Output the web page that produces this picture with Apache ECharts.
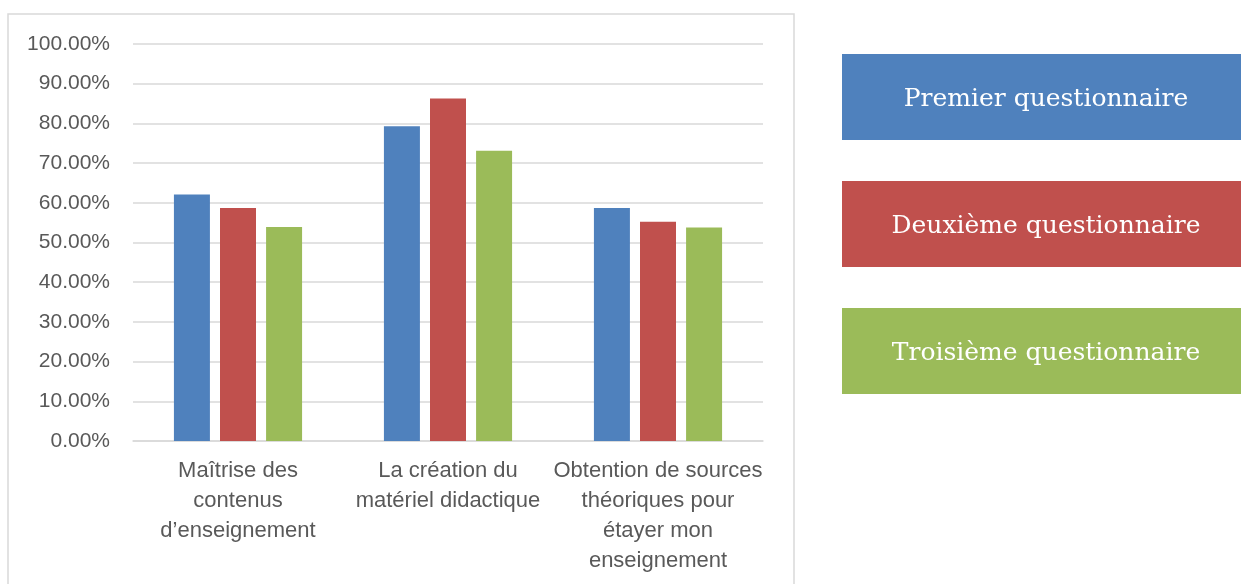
<!DOCTYPE html>
<html>
<head>
<meta charset="utf-8">
<script src="https://cdn.jsdelivr.net/npm/echarts@6/dist/echarts.min.js"></script>
<style>
  html, body { margin: 0; padding: 0; background: #fff; }
  #chart { width: 1241px; height: 584px; }
</style>
</head>
<body>
<div id="chart"></div>
<script>
// categories (shown wrapped, as in the original)
const categories = [
  'Maîtrise des contenus d’enseignement',
  'La création du matériel didactique',
  'Obtention de sources théoriques pour étayer mon enseignement'
];
const categoryLabels = [
  'Maîtrise des\ncontenus\nd’enseignement',
  'La création du\nmatériel didactique',
  'Obtention de sources\nthéoriques pour\nétayer mon\nenseignement'
];

// series values (share of answers)
const premier = [0.621, 0.793, 0.587];
const deuxieme = [0.587, 0.863, 0.552];
const troisieme = [0.539, 0.731, 0.538];

const seriesNames = ['Premier questionnaire', 'Deuxième questionnaire', 'Troisième questionnaire'];
const colors = ['#4F81BD', '#C0504D', '#9BBB59'];

// legend boxes: colored blocks with white serif text
const legendRich = {};
colors.forEach(function (c, i) {
  legendRich['b' + i] = {
    backgroundColor: c,
    color: '#ffffff',
    width: 392,
    height: 82,
    padding: [4, 0, 0, 8],
    align: 'center',
    verticalAlign: 'middle',
    fontFamily: 'DejaVu Serif',
    fontSize: 25
  };
});

const chart = echarts.init(document.getElementById('chart'));
chart.setOption({
  animation: false,
  color: colors,
  grid: { left: 133, right: 478, top: 44, bottom: 143 },
  graphic: [{
    type: 'rect',
    shape: { x: 8, y: 14, width: 786, height: 620 },
    style: { fill: 'none', stroke: '#d9d9d9', lineWidth: 1.5 },
    silent: true
  }],
  legend: {
    orient: 'vertical',
    left: 837,
    top: 54,
    padding: 0,
    itemGap: 41,
    itemWidth: 0,
    itemHeight: 0,
    icon: 'rect',
    selectedMode: false,
    data: seriesNames,
    formatter: function (name) {
      return '{b' + seriesNames.indexOf(name) + '|' + name + '}';
    },
    textStyle: { rich: legendRich }
  },
  xAxis: {
    type: 'category',
    data: categories,
    axisTick: { show: false },
    axisLine: { lineStyle: { color: '#d9d9d9', width: 1.5 } },
    axisLabel: {
      interval: 0,
      margin: 15,
      color: '#595959',
      fontFamily: 'Liberation Sans',
      fontSize: 22,
      lineHeight: 30,
      formatter: function (v, i) { return categoryLabels[i]; }
    }
  },
  yAxis: {
    type: 'value',
    min: 0,
    max: 1,
    interval: 0.1,
    axisLine: { show: false },
    axisTick: { show: false },
    splitLine: { lineStyle: { color: '#d9d9d9', width: 1.5 } },
    axisLabel: {
      margin: 23,
      color: '#595959',
      fontFamily: 'Liberation Sans',
      fontSize: 21,
      formatter: function (v) { return (v * 100).toFixed(2) + '%'; }
    }
  },
  series: [
    { name: seriesNames[0], type: 'bar', data: premier, barWidth: 36, barGap: '28%' },
    { name: seriesNames[1], type: 'bar', data: deuxieme, barWidth: 36, barGap: '28%' },
    { name: seriesNames[2], type: 'bar', data: troisieme, barWidth: 36, barGap: '28%' }
  ]
});
</script>
</body>
</html>
